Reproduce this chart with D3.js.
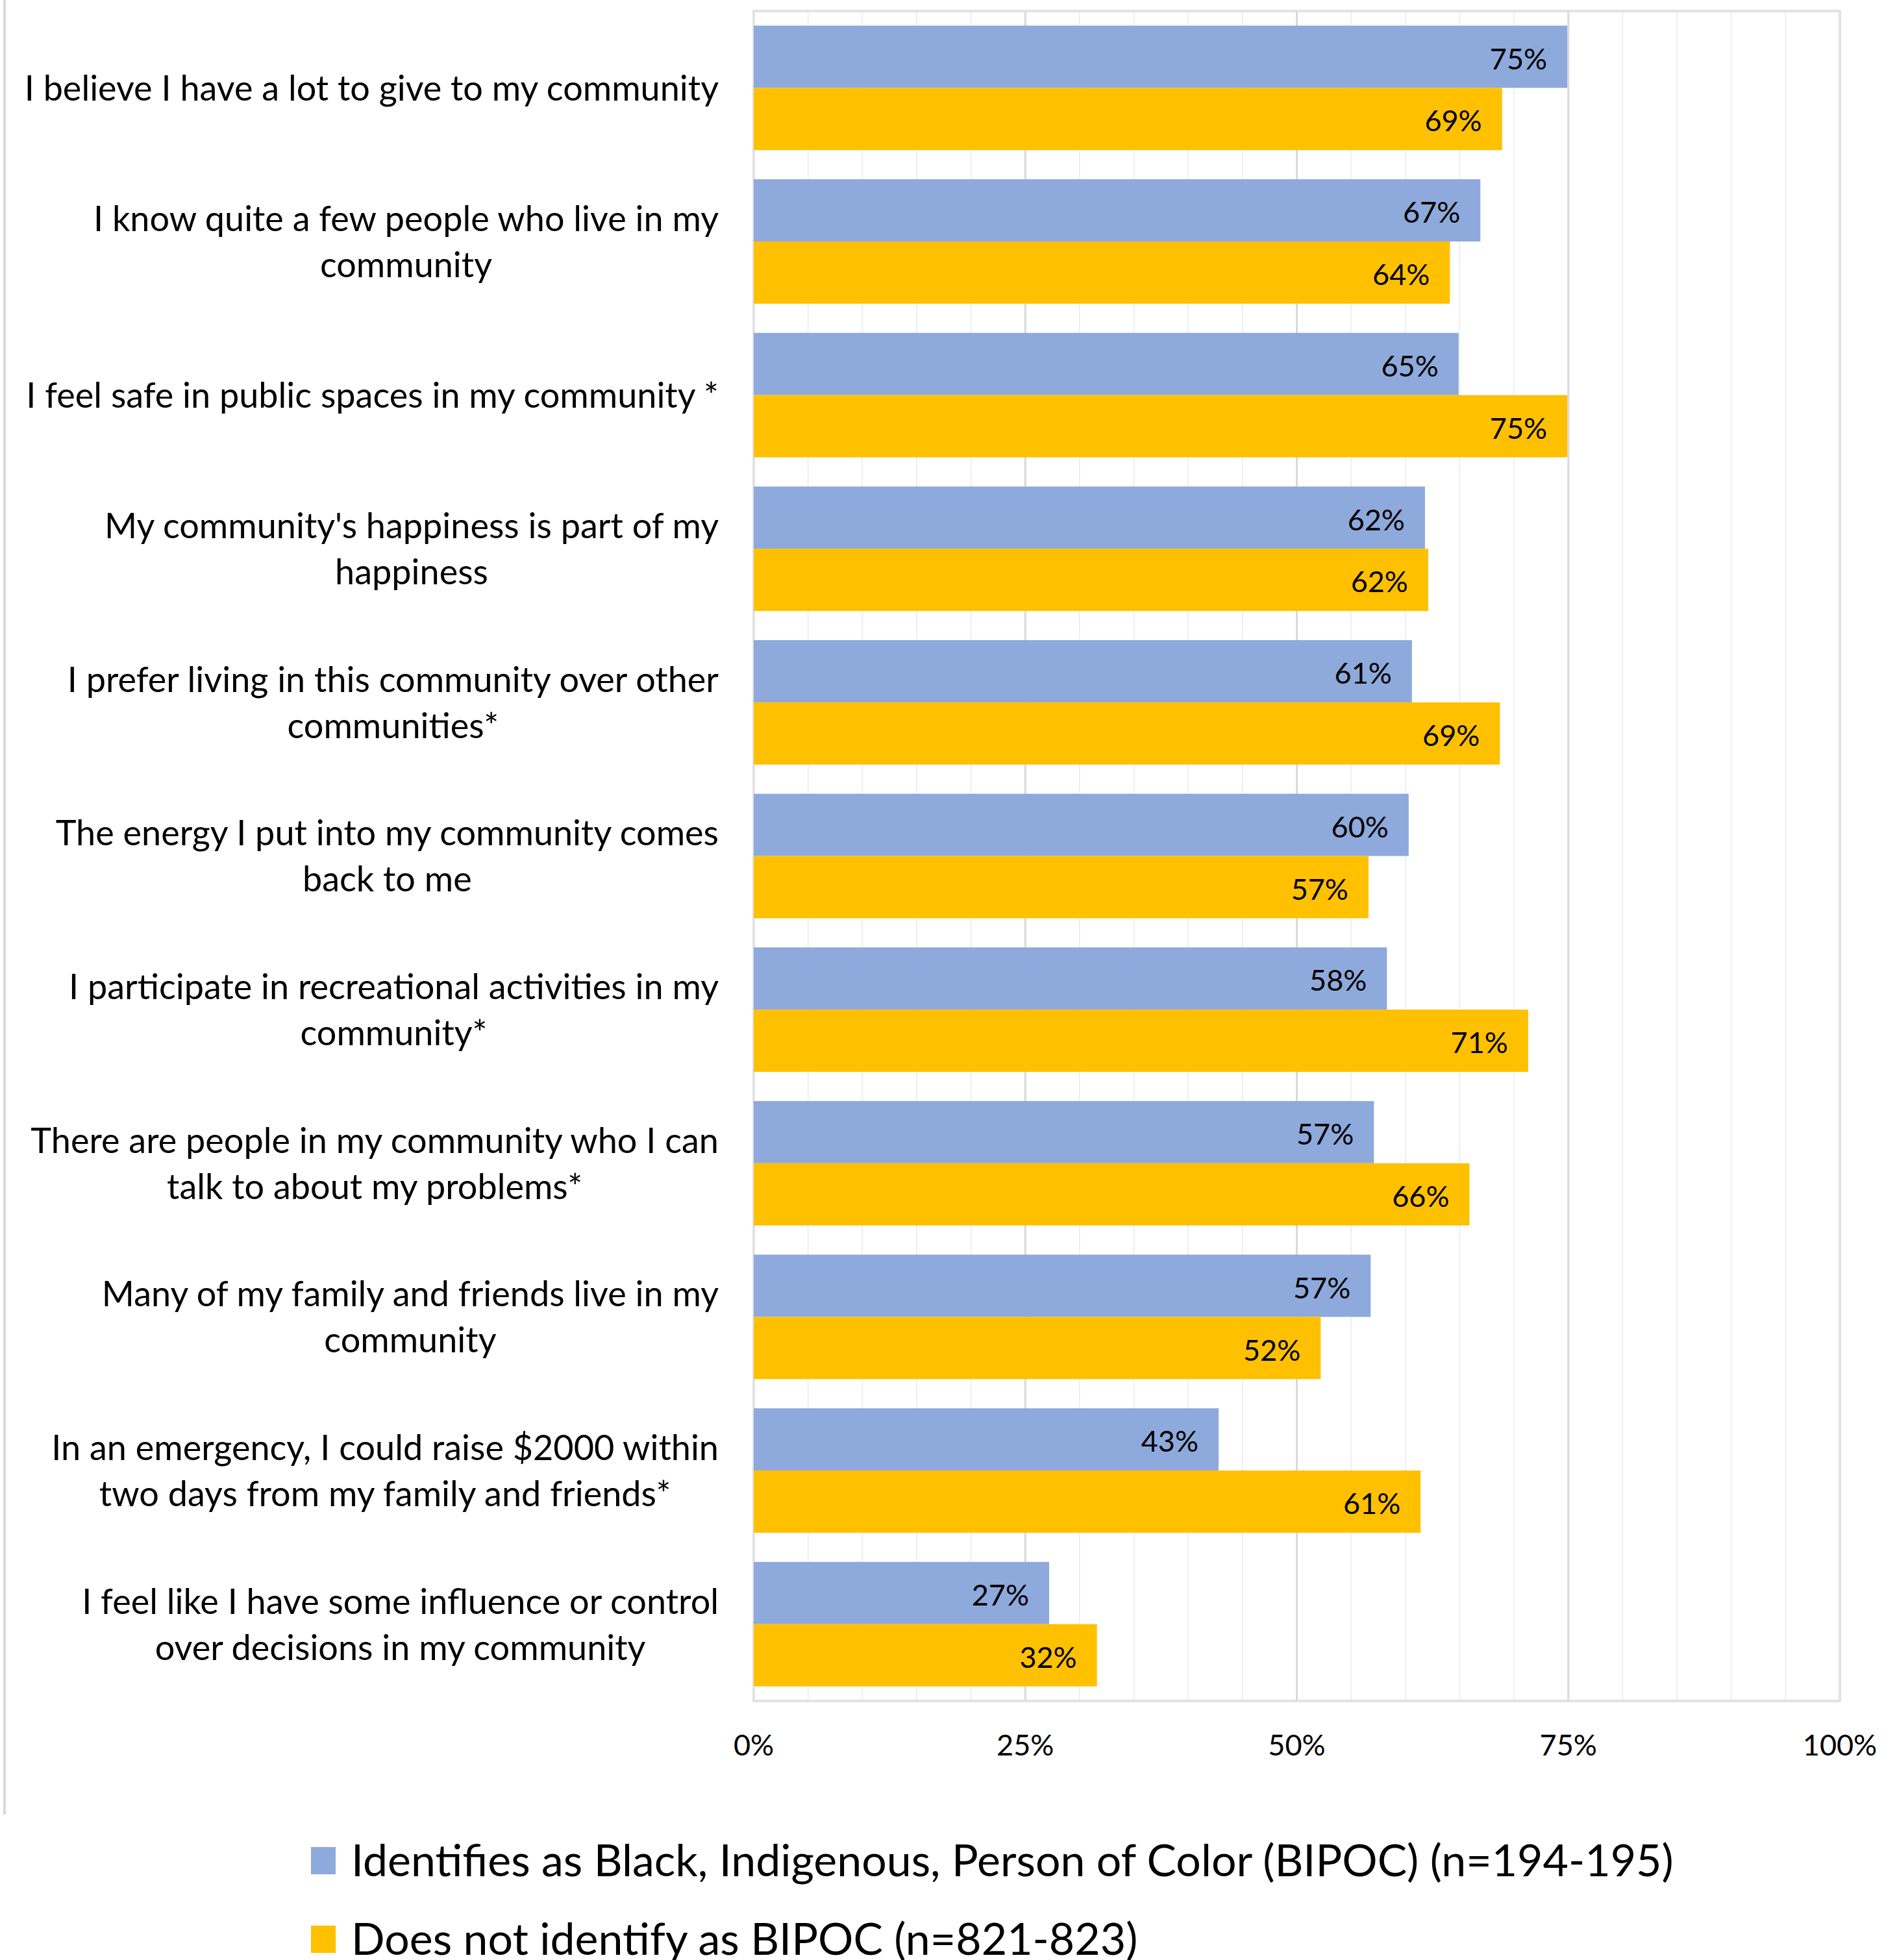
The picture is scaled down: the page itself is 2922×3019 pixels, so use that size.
<!DOCTYPE html>
<html>
<head>
<meta charset="utf-8">
<script src="https://cdn.jsdelivr.net/npm/d3@7"></script>
<style>
  html, body { margin: 0; padding: 0; background: #ffffff; }
  svg { display: block; }
  text { font-family: Lato, "Open Sans", "Noto Sans", sans-serif; fill: #000; }
</style>
</head>
<body>
<svg id="chart"></svg>
<script>
// ---------- data ----------
const categories = [
  "I believe I have a lot to give to my community",
  "I know quite a few people who live in my\ncommunity",
  "I feel safe in public spaces in my community *",
  "My community's happiness is part of my\nhappiness",
  "I prefer living in this community over other\ncommunities*",
  "The energy I put into my community comes\nback to me",
  "I participate in recreational activities in my\ncommunity*",
  "There are people in my community who I can\ntalk to about my problems*",
  "Many of my family and friends live in my\ncommunity",
  "In an emergency, I could raise $2000 within\ntwo days from my family and friends*",
  "I feel like I have some influence or control\nover decisions in my community"
];
const seriesNames = [
  "Identifies as Black, Indigenous, Person of Color (BIPOC) (n=194-195)",
  "Does not identify as BIPOC (n=821-823)"
];
const bipocValues    = [0.749, 0.669, 0.649, 0.618, 0.606, 0.603, 0.583, 0.571, 0.568, 0.428, 0.272];
const nonBipocValues = [0.689, 0.641, 0.749, 0.621, 0.687, 0.566, 0.713, 0.659, 0.522, 0.614, 0.316];
const xTicks = [0, 0.25, 0.5, 0.75, 1];
const seriesColors = ["#8EA9DB", "#FFC000"];

// ---------- layout ----------
const W = 2922, H = 3019;
const plot = { left: 1161, right: 2834, top: 17, bottom: 2620 };
const labelRight = 1107;

const svg = d3.select("#chart").attr("width", W).attr("height", H);

const x = d3.scaleLinear().domain([0, 1]).range([plot.left, plot.right]);
const y = d3.scaleBand().domain(d3.range(categories.length))
  .range([plot.top, plot.bottom]).paddingInner(0.19).paddingOuter(0.095);
const ySub = d3.scaleBand().domain([0, 1]).range([0, y.bandwidth()]).padding(0);

// chart-area left border
svg.append("line").attr("x1", 7).attr("x2", 7).attr("y1", 0).attr("y2", 2795)
  .attr("stroke", "#d9d9d9").attr("stroke-width", 4);

// minor gridlines
const minorTicks = d3.range(0, 1.0001, 0.05);
svg.append("g").selectAll("line").data(minorTicks).join("line")
  .attr("x1", d => x(d)).attr("x2", d => x(d))
  .attr("y1", plot.top).attr("y2", plot.bottom)
  .attr("stroke", "#efefef").attr("stroke-width", 2);
// major gridlines
svg.append("g").selectAll("line").data(xTicks).join("line")
  .attr("x1", d => x(d)).attr("x2", d => x(d))
  .attr("y1", plot.top).attr("y2", plot.bottom)
  .attr("stroke", "#d9d9d9").attr("stroke-width", 3);
// plot frame
svg.append("rect").attr("x", plot.left).attr("y", plot.top)
  .attr("width", plot.right - plot.left).attr("height", plot.bottom - plot.top)
  .attr("fill", "none").attr("stroke", "#e2e2e2").attr("stroke-width", 4);

// bars
const series = [bipocValues, nonBipocValues];
series.forEach((vals, si) => {
  const g = svg.append("g");
  g.selectAll("rect").data(vals).join("rect")
    .attr("x", x(0))
    .attr("y", (d, i) => y(i) + ySub(si))
    .attr("width", d => x(d) - x(0))
    .attr("height", ySub.bandwidth())
    .attr("fill", seriesColors[si]);
  g.selectAll("text").data(vals).join("text")
    .attr("x", d => x(d) - 31)
    .attr("y", (d, i) => y(i) + ySub(si) + ySub.bandwidth() / 2 + 3)
    .attr("dy", "0.36em")
    .attr("text-anchor", "end")
    .style("font-size", "45px")
    .text(d => d3.format(".0%")(d));
});

// category labels
const catG = svg.append("g");
categories.forEach((c, i) => {
  const lines = c.split("\n");
  const lineH = 71;
  const cy = y(i) + y.bandwidth() / 2;
  const texts = lines.map((ln, k) => catG.append("text")
    .attr("y", cy + (k - (lines.length - 1) / 2) * lineH)
    .attr("dy", "0.36em")
    .attr("text-anchor", "middle")
    .style("font-size", "54px")
    .text(ln));
  const maxW = d3.max(texts, t => t.node().getComputedTextLength());
  texts.forEach(t => t.attr("x", labelRight - maxW / 2));
});

// x axis labels
svg.append("g").selectAll("text").data(xTicks).join("text")
  .attr("x", d => x(d)).attr("y", 2688).attr("dy", "0.36em")
  .attr("text-anchor", "middle")
  .style("font-size", "45px")
  .text(d => d3.format(".0%")(d));

// legend
const legRows = [2866, 2987];
const leg = svg.append("g");
seriesNames.forEach((name, i) => {
  leg.append("rect").attr("x", 479).attr("y", legRows[i] - 21)
    .attr("width", 38).attr("height", 42).attr("fill", seriesColors[i]);
  leg.append("text").attr("x", 541).attr("y", legRows[i]).attr("dy", "0.36em")
    .style("font-size", "68px").text(name);
});
</script>
</body>
</html>
